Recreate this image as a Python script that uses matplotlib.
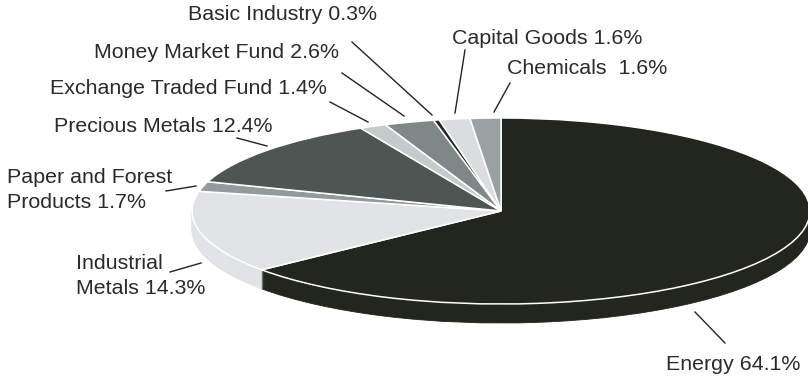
import matplotlib
matplotlib.use("Agg")
from matplotlib import pyplot as plt

plt.rcParams['font.family'] = ['Liberation Sans', 'DejaVu Sans']

sectors = ["Energy", "Industrial Metals", "Paper and Forest Products", "Precious Metals",
           "Exchange Traded Fund", "Money Market Fund", "Basic Industry", "Capital Goods", "Chemicals"]
weights = [64.1, 14.3, 1.7, 12.4, 1.4, 2.6, 0.3, 1.6, 1.6]
colors = ["#23251f", "#e2e3e5", "#929a9a", "#4f5552", "#c5cbcb", "#7f8886", "#23251f", "#dadddd", "#9ba1a2"]
labels = ["Energy 64.1%", "Industrial\nMetals 14.3%", "Paper and Forest\nProducts 1.7%", "Precious Metals 12.4%",
          "Exchange Traded Fund 1.4%", "Money Market Fund 2.6%", "Basic Industry 0.3%", "Capital Goods 1.6%",
          "Chemicals  1.6%"]

W, H = 808, 380
cx, cy = 501, 211   # pie centre in pixels
a, b = 309, 93      # ellipse radii
depth = 19

fig = plt.figure(figsize=(W / 100, H / 100), dpi=100)

# pie axes: squash the circle into an ellipse by scaling x and y differently
ax = fig.add_axes([0, 0, 1, 1])
for d in range(depth, 0, -1):
    rim, _ = ax.pie(weights, colors=colors, startangle=90, counterclock=False, center=(0, -d / b))
    for w in rim:
        w.set_edgecolor(w.get_facecolor())
        w.set_linewidth(0.6)
ax.pie(weights, colors=colors, startangle=90, counterclock=False,
       wedgeprops={'linewidth': 1.1, 'edgecolor': 'white'})
ax.set_aspect('auto')
ax.set_xlim(-cx / a, (W - cx) / a)
ax.set_ylim((cy - H) / b, cy / b)
ax.axis('off')

# overlay in pixel coordinates for labels and leader lines
ov = fig.add_axes([0, 0, 1, 1], facecolor='none')
ov.set_xlim(0, W)
ov.set_ylim(H, 0)
ov.axis('off')

label_pos = [(666, 364), (76, 276), (7, 190), (54, 126), (50, 88), (94, 52), (188, 15), (452, 38), (507, 69)]
leaders = [((695, 312), (725, 343)), ((170, 272), (201, 263)), ((166, 191), (196, 186)),
           ((237, 138), (267, 146)), ((330, 102), (368, 122)), ((342, 73), (404, 116)),
           ((352, 42), (432, 115)), ((465, 50), (455, 113)), ((510, 83), (494, 112))]

for name, pos, seg in zip(labels, label_pos, leaders):
    ov.text(pos[0], pos[1], name, fontsize=15.4, color="#2a2a2a", ha='left', va='center', linespacing=1.42)
    ov.plot([seg[0][0], seg[1][0]], [seg[0][1], seg[1][1]], color="#23251f", lw=1.0)

fig.savefig("out.png", dpi=100)
